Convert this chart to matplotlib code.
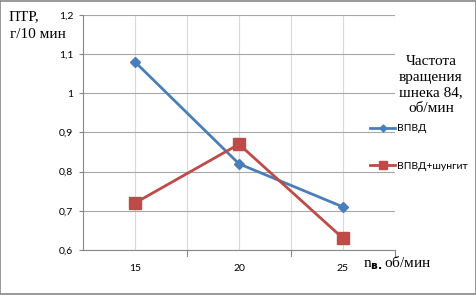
import matplotlib
matplotlib.use('Agg')
import matplotlib.pyplot as plt
from matplotlib.patches import Rectangle
from matplotlib.ticker import FuncFormatter, MultipleLocator

# data
speeds = ['15', '20', '25']
vpvd = [1.08, 0.82, 0.71]
vpvd_shungit = [0.72, 0.87, 0.63]

sans = 'Lato'
serif = 'Liberation Serif'

fig = plt.figure(figsize=(4.77, 2.95), dpi=100)
ax = fig.add_axes([0.174, 0.1525, 0.654, 0.797])

x = [1, 2, 3]
ax.plot(x, vpvd, color='#4a7ebb', linewidth=2, marker='D', markersize=5,
        label='ВПВД', zorder=3)
ax.plot(x, vpvd_shungit, color='#be4b48', linewidth=2, marker='s', markersize=8,
        label='ВПВД+шунгит', zorder=3)

ax.set_xlim(0.5, 3.5)
ax.set_ylim(0.6, 1.2)
ax.set_xticks(x)
ax.set_xticklabels(speeds, fontfamily=sans, fontsize=7.5)
ax.yaxis.set_major_locator(MultipleLocator(0.1))
ax.yaxis.set_major_formatter(FuncFormatter(lambda v, p: ('%.1f' % v).replace('.', ',').replace(',0', '')))
for t in ax.get_yticklabels():
    t.set_fontfamily(sans)
    t.set_fontsize(7.5)

# grid
ax.grid(axis='y', color='#a6a6a6', linewidth=0.8)
for gx in [1, 1.5, 2, 2.5, 3, 3.5]:
    ax.axvline(gx, color='#d9d9d9', linewidth=0.8, zorder=0)
ax.set_axisbelow(True)

for s in ['top', 'right']:
    ax.spines[s].set_visible(False)
ax.spines['left'].set_color('#888888')
ax.spines['bottom'].set_color('#888888')
ax.tick_params(axis='y', length=3, color='#888888', pad=4)
ax.tick_params(axis='x', length=0, pad=10)
for bx in [1.5, 2.5, 3.5]:
    ax.plot([bx, bx], [0.6, 0.585], color='#888888', linewidth=0.8, clip_on=False)

# labels
fig.text(9 / 477, 1 - 17 / 295, 'ПТР,', fontfamily=serif, fontsize=11, va='center', ha='left')
fig.text(10 / 477, 1 - 35 / 295, 'г/10 мин', fontfamily=serif, fontsize=11, va='center', ha='left')
fig.text(363 / 477, 1 - 263 / 295, r'n$_{\mathregular{\mathbf{в.}}}$об/мин', fontfamily=serif,
         fontsize=11, va='center', ha='left')
fig.text(431 / 477, 1 - 85 / 295, 'Частота\nвращения\nшнека 84,\nоб/мин', fontfamily=serif,
         fontsize=11, va='center', ha='center', linespacing=1.25)

leg = fig.legend(loc='upper left', bbox_to_anchor=(366 / 477, 1 - 120 / 295), frameon=False,
                 prop={'family': sans, 'size': 7.5}, handlelength=2.4, handletextpad=0.2,
                 labelspacing=2.7, borderaxespad=0, markerscale=0.7)

fig.patches.append(Rectangle((0.001, 0.002), 0.997, 0.995, transform=fig.transFigure,
                             fill=False, edgecolor='#888888', linewidth=1.2))

plt.savefig('out.png', dpi=100)
